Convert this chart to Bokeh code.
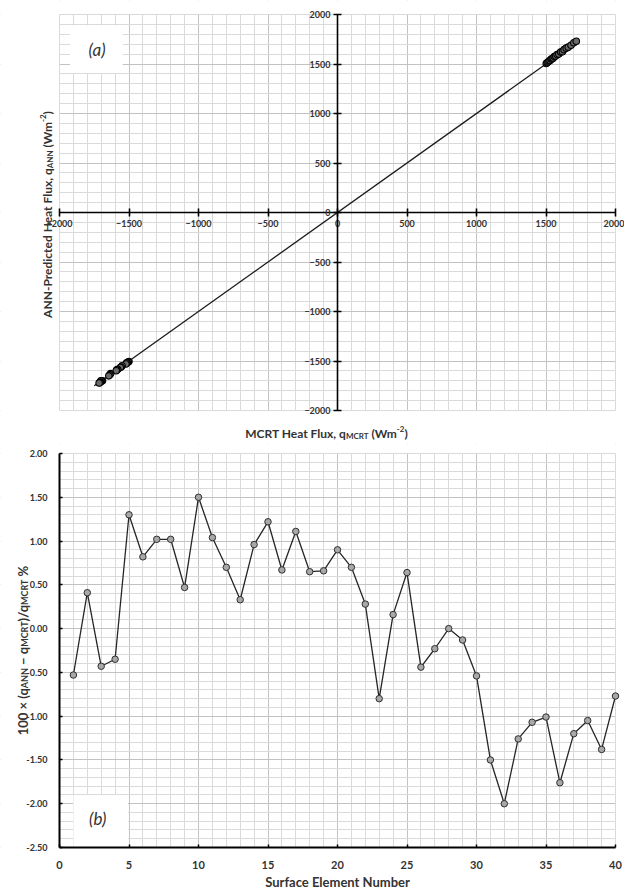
import glob
import os
from math import pi

from bokeh.embed import file_html
from bokeh.layouts import column
from bokeh.models import (BoxAnnotation, Label, NumeralTickFormatter, Range1d,
                          SingleIntervalTicker)
from bokeh.plotting import figure
from bokeh.resources import INLINE

# ---------------- DATA ----------------
# (a) ANN-predicted vs MCRT heat flux (W m^-2)
mcrt_flux = [1502, 1508, 1515, 1522, 1530, 1538, 1545, 1552, 1560, 1570,
             1580, 1592, 1605, 1618, 1630, 1645, 1660, 1680, 1700, 1718,
             -1500, -1505, -1512, -1518, -1522, -1550, -1556, -1562, -1580, -1588,
             -1592, -1632, -1638, -1645, -1690, -1698, -1702, -1706, -1710, -1715]
ann_flux = [1505, 1512, 1520, 1530, 1535, 1550, 1552, 1560, 1575, 1580,
            1595, 1600, 1620, 1625, 1645, 1660, 1670, 1690, 1715, 1730,
            -1505, -1510, -1515, -1520, -1530, -1548, -1560, -1565, -1585, -1590,
            -1598, -1628, -1640, -1650, -1700, -1705, -1700, -1712, -1718, -1722]
fit_x = [-1750, 1740]
fit_y = [-1750, 1740]
flux_limits = (-2000, 2000)

# (b) relative error per surface element (%)
element = list(range(1, 41))
rel_error = [-0.53, 0.41, -0.43, -0.35, 1.30, 0.82, 1.02, 1.02, 0.47, 1.50,
             1.04, 0.70, 0.33, 0.96, 1.22, 0.67, 1.11, 0.65, 0.66, 0.90,
             0.70, 0.28, -0.80, 0.16, 0.64, -0.44, -0.23, 0.00, -0.13, -0.54,
             -1.50, -2.00, -1.26, -1.07, -1.01, -1.76, -1.20, -1.05, -1.38, -0.77]
element_limits = (0, 40)
error_limits = (-2.5, 2.0)

# ---------------- STYLE ----------------
FONT = "Lato"
TXT = "#333333"
GRID_MAJ = "#c2c2c2"
GRID_MIN = "#dadada"


def _find_font():
    for root in ["/usr/share/fonts", "/usr/local/share/fonts",
                 os.path.expanduser("~/.fonts"), os.path.expanduser("~/.local/share/fonts")]:
        for pat in ["Lato-Bold.ttf", "Lato-Bold.otf", "Lato*Bold*.ttf"]:
            hits = glob.glob(os.path.join(root, "**", pat), recursive=True)
            hits = [h for h in hits if "italic" not in h.lower()]
            if hits:
                return hits[0]
    return None


_FP = None
try:
    from PIL import ImageFont
    _FP = _find_font()
except Exception:
    _FP = None
_fcache = {}


def text_w(s, size):
    if _FP:
        try:
            if size not in _fcache:
                _fcache[size] = ImageFont.truetype(_FP, size)
            return _fcache[size].getlength(s)
        except Exception:
            pass
    return len(s) * size * 0.56


def rich_label(p, x, y, pieces, dx, dy, rotate=False):
    """pieces: (text, font size px, baseline shift px, +up)"""
    total = sum(text_w(t, s) for t, s, _ in pieces)
    pos = -total / 2.0
    for t, s, sh in pieces:
        lead = len(t) - len(t.lstrip(" "))
        shown = t.strip(" ")
        start = pos + text_w(" " * lead, s) if lead else pos
        kw = dict(x=x, y=y, text=shown, text_font=FONT, text_font_size=f"{s}px",
                  text_font_style="bold", text_color=TXT, text_align="left",
                  text_baseline="alphabetic")
        if rotate:
            lab = Label(x_offset=dx - sh, y_offset=dy + start, angle=pi / 2, **kw)
        else:
            lab = Label(x_offset=dx + start, y_offset=dy + sh, **kw)
        p.add_layout(lab)
        pos += text_w(t, s)


def ext_range(d0, d1, p0, p1, c0, c1):
    """Range so that value d0 sits at canvas pixel p0 and d1 at p1, canvas spanning c0..c1."""
    k = (d1 - d0) / float(p1 - p0)
    a = d0 + (c0 - p0) * k
    b = d0 + (c1 - p0) * k
    return Range1d(min(a, b), max(a, b))


def style_axis(ax, size):
    ax.major_label_text_font = FONT
    ax.major_label_text_font_size = size
    ax.major_label_text_font_style = "bold"
    ax.major_label_text_color = TXT
    ax.axis_line_color = "black"
    ax.major_tick_line_color = "black"
    ax.minor_tick_line_color = None
    ax.axis_label = None


def mask_outside(p, x0, x1, y0, y1, outline="#c8c8c8"):
    """white margins drawn over the grid (but under glyphs / axes) + plot-area outline"""
    for kw in (dict(right=x0), dict(left=x1), dict(top=y0), dict(bottom=y1)):
        p.add_layout(BoxAnnotation(fill_color="white", fill_alpha=1.0, line_color=None,
                                   level="underlay", **kw))
    p.add_layout(BoxAnnotation(left=x0, right=x1, bottom=y0, top=y1, fill_alpha=0.0,
                               line_color=outline, line_width=1, level="underlay"))


# ---------------- (a) ----------------
p1 = figure(width=624, height=444,
            x_range=ext_range(flux_limits[0], flux_limits[1], 59, 615, 0, 624),
            y_range=ext_range(flux_limits[1], flux_limits[0], 14, 410, 0, 444),
            output_backend="svg", toolbar_location=None, min_border=0,
            outline_line_color=None, background_fill_color="white", border_fill_color="white")
tk1x = SingleIntervalTicker(interval=500, num_minor_ticks=5)
tk1y = SingleIntervalTicker(interval=500, num_minor_ticks=5)
p1.xaxis.ticker = tk1x
p1.yaxis.ticker = tk1y
p1.xgrid.ticker = tk1x
p1.ygrid.ticker = tk1y
for ax in (p1.xaxis[0], p1.yaxis[0]):
    style_axis(ax, "9px")
    ax.fixed_location = 0
    ax.bounds = flux_limits
    ax.axis_line_width = 1.6
    ax.major_tick_line_width = 1.6
    ax.major_tick_in = 4
    ax.major_tick_out = 4
p1.xaxis.major_label_standoff = 3
p1.yaxis.major_label_standoff = 3
p1.grid.grid_line_color = GRID_MAJ
p1.grid.minor_grid_line_color = GRID_MIN
mask_outside(p1, flux_limits[0], flux_limits[1], flux_limits[0], flux_limits[1])

p1.line(fit_x, fit_y, line_color="#1a1a1a", line_width=1.3)
p1.scatter(mcrt_flux, ann_flux, marker="circle", size=6.5, fill_color="#6a6a6a",
           line_color="black", line_width=1.1)

p1.add_layout(BoxAnnotation(left=-1925, right=-1545, bottom=1410, top=1890,
                            fill_color="white", fill_alpha=1.0, line_color=None, level="underlay"))
p1.add_layout(Label(x=-1730, y=1650, text="(a)", text_font=FONT, text_font_size="17px",
                    text_font_style="italic", text_color=TXT, text_align="center",
                    text_baseline="middle"))

rich_label(p1, flux_limits[0], flux_limits[0],
           [("MCRT Heat Flux, q", 12, 0), ("MCRT", 8, -2), (" (Wm", 12, 0), ("-2", 8, 5), (")", 12, 0)],
           dx=267, dy=-23)
rich_label(p1, flux_limits[0], 0,
           [("ANN-Predicted Heat Flux, q", 12, 0), ("ANN", 8, -2), (" (Wm", 12, 0), ("-2", 8, 5), (")", 12, 0)],
           dx=-12, dy=-2, rotate=True)

# ---------------- (b) ----------------
p2 = figure(width=624, height=444,
            x_range=ext_range(element_limits[0], element_limits[1], 59, 615, 0, 624),
            y_range=ext_range(error_limits[1], error_limits[0], 9, 403, 0, 444),
            output_backend="svg", toolbar_location=None, min_border=0,
            outline_line_color=None, background_fill_color="white", border_fill_color="white")
tk2x = SingleIntervalTicker(interval=5, num_minor_ticks=5)
tk2y = SingleIntervalTicker(interval=0.5, num_minor_ticks=5)
p2.xaxis.ticker = tk2x
p2.yaxis.ticker = tk2y
p2.xgrid.ticker = tk2x
p2.ygrid.ticker = tk2y
p2.yaxis.formatter = NumeralTickFormatter(format="0.00")
style_axis(p2.xaxis[0], "11px")
style_axis(p2.yaxis[0], "9px")
p2.xaxis.fixed_location = error_limits[0]
p2.xaxis.bounds = element_limits
p2.yaxis.fixed_location = element_limits[0]
p2.yaxis.bounds = error_limits
for ax in (p2.xaxis[0], p2.yaxis[0]):
    ax.axis_line_width = 2
    ax.major_tick_line_width = 1.5
    ax.major_tick_in = 3
    ax.major_tick_out = 0
p2.xaxis.major_label_standoff = 9
p2.yaxis.major_label_standoff = 8
p2.grid.grid_line_color = GRID_MAJ
p2.grid.minor_grid_line_color = GRID_MIN
mask_outside(p2, element_limits[0], element_limits[1], error_limits[0], error_limits[1])

p2.line(element, rel_error, line_color="#262626", line_width=1.3)
p2.scatter(element, rel_error, marker="circle", size=6.5, fill_color="#a8a8a8",
           line_color="#303030", line_width=1.0)

p2.add_layout(BoxAnnotation(left=1.0, right=4.93, bottom=-2.5, top=-1.90,
                            fill_color="white", fill_alpha=1.0, line_color=None, level="underlay"))
p2.add_layout(Label(x=2.75, y=-2.17, text="(b)", text_font=FONT, text_font_size="17px",
                    text_font_style="italic", text_color=TXT, text_align="center",
                    text_baseline="middle"))

rich_label(p2, 20, error_limits[0], [("Surface Element Number", 13, 0)], dx=0, dy=-34)
rich_label(p2, element_limits[0], -0.25,
           [("100 × (q", 13, 0), ("ANN", 9, -2), (" − q", 13, 0), ("MCRT", 9, -2),
            (")/q", 13, 0), ("MCRT", 9, -2), (" %", 13, 0)],
           dx=-37, dy=0, rotate=True)

layout = column(p1, p2)
open("out.html", "w").write(file_html(layout, INLINE, title="ANN vs MCRT heat flux"))
